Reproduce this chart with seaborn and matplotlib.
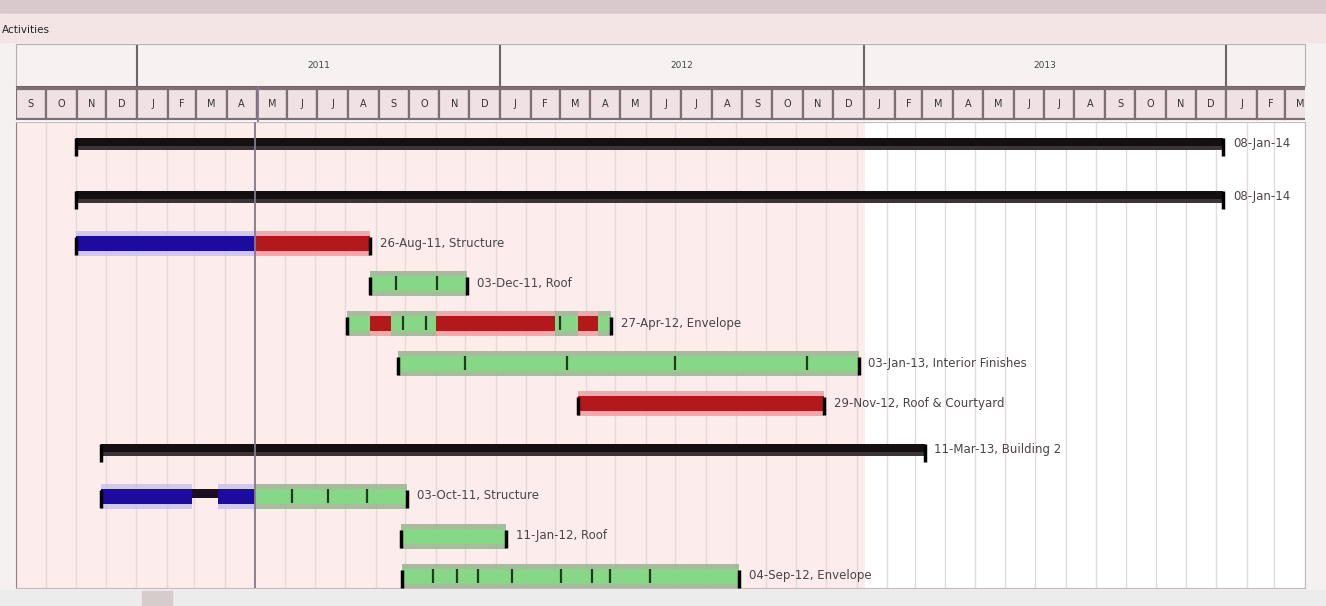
import pandas as pd
import matplotlib
matplotlib.use("Agg")
import matplotlib.pyplot as plt
import matplotlib.dates as mdates
from matplotlib.patches import Rectangle
import seaborn as sns

# --- data ---------------------------------------------------------------
row_labels = ["08-Jan-14", "08-Jan-14", "26-Aug-11, Structure", "03-Dec-11, Roof",
              "27-Apr-12, Envelope", "03-Jan-13, Interior Finishes",
              "29-Nov-12, Roof & Courtyard", "11-Mar-13, Building 2",
              "03-Oct-11, Structure", "11-Jan-12, Roof", "04-Sep-12, Envelope"]
row_summary = [True, True, False, False, False, False, False, True, False, False, False]

seg_row = [0, 1, 2, 2, 3, 4, 4, 4, 4, 4, 4, 4, 5, 6, 7, 8, 8, 8, 8, 9, 10]
seg_start = ["2010-11-01", "2010-11-01", "2010-11-01", "2011-05-02", "2011-08-26",
             "2011-08-03", "2011-08-26", "2011-09-17", "2011-11-01", "2012-03-01",
             "2012-03-24", "2012-04-14", "2011-09-24", "2012-03-24", "2010-11-26",
             "2010-11-26", "2011-02-27", "2011-03-25", "2011-05-02", "2011-09-27",
             "2011-09-28"]
seg_end = ["2014-01-08", "2014-01-08", "2011-05-02", "2011-08-26", "2011-12-03",
           "2011-08-26", "2011-09-17", "2011-11-01", "2012-03-01", "2012-03-24",
           "2012-04-14", "2012-04-27", "2013-01-03", "2012-11-29", "2013-03-11",
           "2011-02-27", "2011-03-25", "2011-05-02", "2011-10-03", "2012-01-11",
           "2012-09-04"]
seg_kind = ["summary", "summary", "planned", "late", "done",
            "done", "late", "done", "late", "done", "late", "done",
            "done", "late", "summary",
            "planned", "hold", "planned", "done", "done", "done"]

# small progress marks inside bars
tick_row = [3, 3, 4, 4, 4, 5, 5, 5, 5, 8, 8, 8,
            10, 10, 10, 10, 10, 10, 10, 10]
tick_date = ["2011-09-22", "2011-11-02", "2011-09-29", "2011-10-22", "2012-03-06",
             "2011-12-01", "2012-03-13", "2012-07-01", "2012-11-12",
             "2011-06-08", "2011-07-15", "2011-08-23",
             "2011-10-29", "2011-11-22", "2011-12-14", "2012-01-17", "2012-03-07",
             "2012-04-07", "2012-04-26", "2012-06-05"]

years = [2011, 2012, 2013]
month_letters = ["J", "F", "M", "A", "M", "J", "J", "A", "S", "O", "N", "D"]
status_date = "2011-05-02"
view_start, view_end = "2010-09-01", "2014-03-21"

# --- styles ---------------------------------------------------------------
core = {"summary": "#141012", "planned": "#1d0b9e", "late": "#b3191c",
        "done": "#86d886", "hold": "#1a1020"}
halo = {"summary": "#3c3438", "planned": "#c9c2ee", "late": "#eba0a2",
        "done": "#97b590", "hold": "#1a1020"}

W, H = 1326, 606
sns.set_style("white")
plt.rcParams["font.family"] = ["DejaVu Sans"]

fig = plt.figure(figsize=(W / 100, H / 100), dpi=100, facecolor="#f5f1f1")

def px_axes(x0, y0, x1, y1):
    return fig.add_axes([x0 / W, 1 - y1 / H, (x1 - x0) / W, (y1 - y0) / H])

# window chrome
fig.patches.append(Rectangle((0, 1 - 14 / H), 1, 14 / H, transform=fig.transFigure,
                             color="#d9c8cc", zorder=0))
fig.patches.append(Rectangle((0, 1 - 42 / H), 1, 28 / H, transform=fig.transFigure,
                             color="#f3e4e6", zorder=0))
fig.text(2 / W, 1 - 30 / H, "Activities", fontsize=7.5, color="#222222", va="center")
fig.patches.append(Rectangle((0, 0), 1, 16 / H, transform=fig.transFigure,
                             color="#ececec", zorder=0))
fig.patches.append(Rectangle((142 / W, 1 / H), 30 / W, 14 / H, transform=fig.transFigure,
                             color="#d6cccc", zorder=1))

x0, x1 = mdates.datestr2num(view_start), mdates.datestr2num(view_end)
month_edges = pd.date_range("2010-09-01", "2014-04-01", freq="MS")
month_num = mdates.date2num(month_edges.to_pydatetime())
year_num = mdates.date2num(pd.to_datetime([f"{y}-01-01" for y in years + [years[-1] + 1]]).to_pydatetime())

# --- year band ---
ax_y = px_axes(16, 44, 1305, 86)
ax_y.set_facecolor("#f7f1f2")
ax_y.set_xlim(x0, x1)
ax_y.set_ylim(0, 1)
for yn in year_num:
    ax_y.axvline(yn, color="#6f6468", lw=1.5)
for y, a, b in zip(years, year_num[:-1], year_num[1:]):
    ax_y.text((a + b) / 2, 0.5, str(y), ha="center", va="center", fontsize=6.5, color="#444444")
ax_y.set_xticks([]); ax_y.set_yticks([])
for s in ax_y.spines.values():
    s.set_color("#b8aeb0")

# --- month band ---
ax_m = px_axes(16, 86, 1305, 122)
ax_m.set_xlim(x0, x1)
ax_m.set_ylim(0, 1)
ax_m.bar(month_num[:-1], 0.84, width=month_num[1:] - month_num[:-1], bottom=0.08,
         align="edge", color="#f0e2e4", edgecolor="#7d6f73", linewidth=1.6)
for a, b, d in zip(month_num[:-1], month_num[1:], month_edges[:-1]):
    ax_m.text((a + b) / 2, 0.5, month_letters[d.month - 1], ha="center", va="center",
              fontsize=7, color="#333333", clip_on=True)
ax_m.set_xticks([]); ax_m.set_yticks([])
for s in ax_m.spines.values():
    s.set_visible(False)
ax_m.axhline(1, color="#6f6468", lw=2)

# --- main gantt area ---
ax = px_axes(16, 122, 1305, 588)
ax.set_facecolor("white")
ax.set_xlim(x0, x1)
ax.set_ylim(466, 0)
ax.axvspan(x0, mdates.datestr2num("2013-01-10"), color="#fcecec", zorder=0, lw=0)
ax.set_xticks(month_num)
ax.xaxis.grid(True, color="#e3dada", lw=1)
ax.tick_params(length=0, labelbottom=False, labelleft=False)
ax.set_yticks([])
for s in ax.spines.values():
    s.set_color("#c4babc")
ax.spines["left"].set_color("#8d8488")

# row centres from row heights
row_y, top = [], -5.0
for summ in row_summary:
    h = 53 if summ else 40
    row_y.append(top + h / 2)
    top += h

seg = pd.DataFrame({"row": seg_row, "start": mdates.datestr2num(seg_start),
                    "end": mdates.datestr2num(seg_end), "kind": seg_kind})
seg["y"] = [row_y[r] for r in seg["row"]]

for kind, g in seg.groupby("kind"):
    w = g["end"] - g["start"]
    if kind == "summary":
        ax.barh(g["y"], w, left=g["start"], height=12, color=halo[kind],
                linewidth=0, zorder=3)
        ax.barh(g["y"] - 2, w, left=g["start"], height=8, color=core[kind],
                linewidth=0, zorder=4)
    elif kind == "hold":
        ax.barh(g["y"] - 3, w, left=g["start"], height=9, color=core[kind],
                linewidth=0, zorder=5)
    else:
        ax.barh(g["y"], w, left=g["start"], height=25, color=halo[kind],
                alpha=0.85, linewidth=0, zorder=3)
        ax.barh(g["y"], w, left=g["start"], height=15, color=core[kind],
                linewidth=0, zorder=4)

# end caps at each row's start/finish
ext = seg.groupby("row").agg(start=("start", "min"), end=("end", "max")).reset_index()
ext["y"] = [row_y[r] for r in ext["row"]]
caps = pd.DataFrame({"x": list(ext["start"]) + list(ext["end"]),
                     "y": list(ext["y"] + 3) * 2})
sns.scatterplot(data=caps, x="x", y="y", marker="|", s=150, color="black",
                linewidth=2.5, legend=False, ax=ax, zorder=6)

ticks = pd.DataFrame({"x": mdates.datestr2num(tick_date), "y": [row_y[r] for r in tick_row]})
sns.scatterplot(data=ticks, x="x", y="y", marker="|", s=110, color="#1d3d1d",
                linewidth=1.6, legend=False, ax=ax, zorder=6)
ax.set_xlabel(""); ax.set_ylabel("")

for (_, r) in ext.iterrows():
    ax.annotate(row_labels[int(r["row"])], (r["end"], r["y"]), xytext=(7, 0),
                textcoords="offset points", va="center", fontsize=8.5,
                color="#4a4446", annotation_clip=False, zorder=7)

# status date line through header and chart
sd = mdates.datestr2num(status_date)
ax.axvline(sd, color="#857a8c", lw=1.3, zorder=5)
ax_m.axvline(sd, color="#857a8c", lw=1.3)

fig.savefig("out.png", dpi=100, facecolor=fig.get_facecolor())
